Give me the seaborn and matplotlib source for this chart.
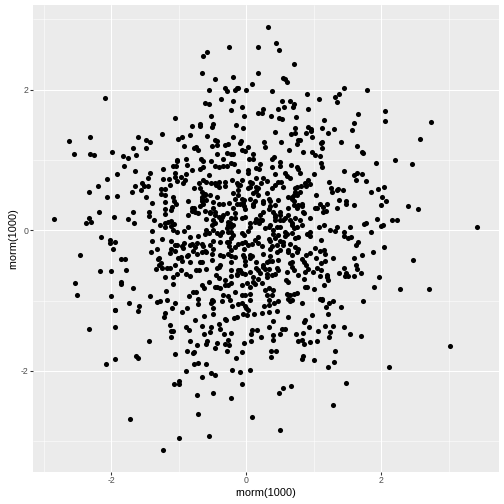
import matplotlib
matplotlib.use("Agg")
import matplotlib.pyplot as plt
import pandas as pd
import seaborn as sns

# values, region by region
top_left_x = [-2.09,-2.63,-2.56,-2.31,-2.32,-2.26,-1.99,-1.82,-1.76,-1.68,
              -1.63,-1.61,-1.49,-1.49,-1.43,-1.25,-1.05,-1.01,-0.96,-0.84,
              -0.92,-1.03,-0.89]
top_left_y = [1.88,1.27,1.09,1.33,1.09,1.07,1.12,1.05,1.03,1.17,
              1.07,1.32,1.29,1.17,1.25,1.37,1.60,1.30,1.33,1.36,
              1.20,1.00,1.02]

top_mid_x = [0.32,0.44,0.48,-0.25,0.17,-0.58,-0.64,0.71,-0.65,0.18,
             -0.19,-0.46,0.55,0.58,0.60,0.09,-0.31,-0.12,-0.14,-0.17,
             -0.28,-0.56,-0.01,0.38,0.90,1.08,-0.37,-0.20,-0.61,-0.56,
             -0.06,-0.22,0.24,0.18,0.23,0.53,0.64,0.71,0.69,0.47,
             0.56,0.91,0.36,-0.04,-0.53,0.48,0.53,0.73,1.15,-0.16,
             -0.05,-0.80,-0.68,-0.68,-0.50,-0.51,0.72,0.92,0.96,0.96,
             1.12,0.88,0.72,0.66,0.42,1.21,-0.58,-0.19,0.97,-0.08,
             -0.10,-0.46,-0.44,-0.43,-0.51,-0.31,-0.27,0.03,0.26,0.28,
             0.51,0.75,0.76,0.80,1.10,1.12,-0.77,-0.74,-0.71,-0.43,
             -0.29,-0.23,-0.19,-0.06,-0.02,0.10,0.63,0.84,0.98,1.02,
             1.09,-0.67,-0.35,0.04,0.10,0.41,0.38]
top_mid_y = [2.89,2.66,2.56,2.60,2.60,2.54,2.48,2.37,2.23,2.24,
             2.18,2.15,2.17,2.15,2.11,2.08,2.03,2.03,2.02,1.99,
             1.98,1.99,1.99,1.98,1.94,1.86,1.87,1.84,1.81,1.80,
             1.76,1.71,1.73,1.67,1.67,1.84,1.84,1.79,1.75,1.73,
             1.75,1.72,1.63,1.62,1.62,1.60,1.58,1.61,1.57,1.49,
             1.45,1.48,1.51,1.48,1.51,1.47,1.46,1.47,1.44,1.41,
             1.46,1.39,1.39,1.37,1.40,1.39,1.34,1.32,1.32,1.27,
             1.24,1.28,1.27,1.21,1.20,1.21,1.22,1.19,1.25,1.18,
             1.26,1.22,1.28,1.28,1.24,1.17,1.17,1.18,1.14,1.09,
             1.10,1.09,1.09,1.14,1.13,1.08,1.14,1.12,1.11,1.07,
             1.05,1.01,1.02,1.01,1.01,1.04,1.01]

top_right_x = [1.45,1.79,1.37,1.31,1.34,1.65,2.06,2.05,2.74,1.60,
               1.30,1.57,2.58,1.40,1.64,1.71,1.73,2.20,1.12]
top_right_y = [2.03,2.00,1.94,1.89,1.83,1.66,1.69,1.56,1.54,1.52,
               1.44,1.43,1.30,1.25,1.20,1.11,1.10,1.00,1.25]

mid_left_x = [-1.81,-1.65,-1.92,-2.06,-1.42,-1.45,-1.24,-1.08,-1.02,-1.04,
              -0.90,-0.88,-1.06,-1.05,-0.97,-1.23,-1.14,-0.91,-0.94,-1.03,
              -1.13,-1.55,-1.46,-1.65,-1.52,-1.56,-1.70,-2.20,-2.33,-2.06,
              -1.92,-1.48,-1.26,-1.21,-1.26,-1.21,-1.08,-1.39,-1.20,-1.07,
              -1.04,-0.87,-1.10,-1.11,-1.20,-1.20,-0.87,-1.44,-1.44,-1.68,
              -2.18,-2.33,-1.96,-1.75,-2.85,-2.37,-2.30,-1.66,-1.37,-1.28,
              -1.21,-1.16,-1.20,-1.11,-1.12,-1.07,-1.08,-1.02,-0.92,-0.87,
              -1.40,-2.15,-2.02,-1.95,-2.02,-1.97,-2.47,-1.39,-1.25,-1.12,
              -0.93,-1.05,-1.02,-0.96,-0.94,-1.33,-1.41,-1.11,-1.13,-1.05,
              -0.86,-0.88,-0.97,-1.86,-1.79,-1.30,-1.31,-1.01,-0.95,-1.26,
              -1.29,-1.06,-1.34,-1.25,-1.17,-1.13,-1.78,-2.17,-2.01,-0.97,
              -1.02,-0.89,-1.08,-1.20,-0.84,-2.54,-1.86,-1.85,-1.09,-1.68,
              -1.19,-2.51,-2.01,-1.43,-0.85,-1.17,-1.33,-1.28,-1.06,-1.74,
              -1.59,-1.95,-1.10,-0.88]
mid_left_y = [0.91,0.85,0.80,0.73,0.82,0.74,0.87,0.92,0.98,0.92,
              0.80,0.93,0.82,0.76,0.76,0.73,0.73,0.72,0.67,0.70,
              0.65,0.67,0.63,0.63,0.63,0.58,0.54,0.63,0.55,0.48,
              0.49,0.48,0.59,0.59,0.52,0.50,0.48,0.39,0.40,0.41,
              0.37,0.41,0.33,0.29,0.30,0.23,0.22,0.26,0.20,0.26,
              0.26,0.18,0.19,0.16,0.16,0.10,0.12,0.11,0.14,0.08,
              0.10,0.12,0.04,0.13,0.06,0.09,0.01,-0.02,-0.01,0.04,
              -0.01,-0.10,-0.14,-0.17,-0.18,-0.26,-0.35,-0.15,-0.13,-0.15,
              -0.18,-0.21,-0.21,-0.23,-0.25,-0.26,-0.31,-0.27,-0.32,-0.29,
              -0.35,-0.37,-0.38,-0.41,-0.41,-0.40,-0.41,-0.40,-0.44,-0.47,
              -0.49,-0.49,-0.55,-0.54,-0.53,-0.53,-0.57,-0.58,-0.58,-0.57,
              -0.62,-0.62,-0.66,-0.66,-0.65,-0.75,-0.74,-0.77,-0.76,-0.82,
              -0.86,-0.92,-0.93,-0.93,-0.93,-0.99,-1.02,-1.00,-1.03,-1.04,
              -1.08,-1.13,-1.11,-1.11]

center_x = [-0.64,-0.53,-0.68,-0.64,-0.46,-0.40,-0.35,-0.29,-0.23,-0.18,
            -0.12,0.03,0.03,0.14,0.20,0.19,0.38,0.50,0.50,0.66,
            0.75,0.77,0.79,0.57,0.61,0.64,0.43,-0.81,-0.56,-0.70,
            -0.64,-0.59,-0.53,-0.46,-0.41,-0.32,-0.21,-0.32,-0.41,-0.14,
            -0.09,-0.07,0.05,0.15,0.25,0.31,0.22,0.47,0.38,0.55,
            0.72,0.87,0.92,0.81,0.89,-0.77,-0.68,-0.65,-0.61,0.18,
            0.14,0.10,0.05,0.03,-0.12,-0.19,-0.12,-0.07,-0.17,-0.05,
            -0.14,-0.25,-0.34,-0.40,-0.49,-0.59,-0.66,-0.66,-0.69,-0.77,
            -0.81,-0.61,-0.54,-0.49,-0.46,-0.59,-0.36,-0.29,-0.17,-0.22,
            -0.27,-0.23,-0.07,0.05,-0.02,0.10,0.24,0.13,0.18,0.30,
            0.33,0.35,0.47,0.62,0.67,0.75,0.71,0.77,0.82,0.62,
            0.84,0.62,0.57,0.50,0.40,0.33,0.25,0.20,0.15,0.23,
            0.19,0.43,0.50,0.33,0.28,0.45,0.50,0.67,0.75,0.82,
            0.65,0.72,-0.60,-0.56,-0.49,-0.44,-0.36,-0.27,-0.22,-0.07,
            0.03,-0.39,-0.49,-0.54,-0.71,-0.83,-0.73,-0.64,-0.83,-0.25,
            -0.22,-0.25,-0.07,0.03,0.13,0.18,0.23,0.35,0.43,0.47,
            0.57,0.50,0.55,0.62,0.67,0.72,0.77,0.90,0.35,0.45,
            0.67,0.82,0.89,0.25,0.35,0.47,0.30,0.15,0.05,-0.05,
            -0.02,-0.17,-0.27,-0.22,-0.39,-0.51,-0.49,-0.61,-0.73,-0.79,
            -0.66,-0.51,-0.83,-0.70,-0.59,-0.39,-0.44,-0.22,-0.12,-0.02,
            0.14,0.25,0.33,0.45,0.65,0.67,0.71,0.89,0.60,0.05,
            -0.45,-0.41,-0.22,-0.07,-0.14,-0.32,0.10,0.20,0.30,0.43,
            0.59,0.77,0.87,-0.56,-0.66,-0.62,-0.47,-0.39,-0.32,-0.22,
            -0.07,0.01,0.05,0.10,0.23,0.33,0.40,0.60,0.65,0.75,
            0.87,-0.79,-0.71,-0.51,-0.34,-0.27,-0.17,-0.07,0.05,0.30,
            0.38,0.33,0.62,0.67,-0.24,0.05,1.09]
center_y = [0.99,0.98,0.87,0.90,0.92,0.90,0.92,0.92,0.95,0.94,
            0.85,0.86,0.81,0.89,0.94,0.87,0.90,0.97,0.92,0.93,
            0.90,0.87,0.81,0.82,0.77,0.74,0.80,0.86,0.78,0.67,
            0.72,0.68,0.67,0.67,0.68,0.69,0.72,0.63,0.62,0.67,
            0.64,0.72,0.68,0.74,0.74,0.70,0.67,0.68,0.60,0.62,
            0.60,0.67,0.72,0.63,0.63,0.60,0.60,0.55,0.52,0.60,
            0.56,0.53,0.45,0.60,0.58,0.53,0.50,0.45,0.44,0.39,
            0.38,0.39,0.37,0.37,0.40,0.43,0.48,0.41,0.34,0.31,
            0.27,0.28,0.26,0.31,0.22,0.16,0.19,0.24,0.24,0.17,
            0.08,0.05,0.17,0.11,0.30,0.35,0.39,0.41,0.50,0.53,
            0.45,0.41,0.43,0.48,0.48,0.50,0.41,0.36,0.34,0.31,
            0.26,0.22,0.17,0.22,0.26,0.30,0.26,0.22,0.16,0.15,
            0.10,0.19,0.15,0.05,0.03,0.05,0.04,0.08,0.05,0.08,
            0.15,0.17,0.00,-0.04,0.00,-0.04,-0.02,-0.02,-0.03,-0.04,
            -0.01,-0.16,-0.15,-0.21,-0.08,-0.10,-0.18,-0.22,-0.21,-0.16,
            -0.11,-0.23,-0.18,-0.21,-0.14,-0.18,-0.23,-0.15,-0.11,-0.07,
            -0.08,-0.15,-0.21,-0.28,-0.04,-0.11,-0.26,-0.05,-0.26,-0.21,
            -0.35,-0.41,-0.35,-0.33,-0.37,-0.42,-0.45,-0.45,-0.35,-0.35,
            -0.43,-0.38,-0.33,-0.45,-0.35,-0.33,-0.26,-0.30,-0.33,-0.30,
            -0.45,-0.42,-0.45,-0.56,-0.55,-0.49,-0.53,-0.56,-0.57,-0.49,
            -0.53,-0.52,-0.55,-0.54,-0.47,-0.52,-0.57,-0.49,-0.59,-0.59,
            -0.64,-0.68,-0.65,-0.61,-0.64,-0.71,-0.66,-0.61,-0.66,-0.62,
            -0.71,-0.64,-0.59,-0.73,-0.78,-0.82,-0.80,-0.82,-0.78,-0.75,
            -0.78,-0.75,-0.81,-0.73,-0.75,-0.82,-0.85,-0.90,-0.92,-0.89,
            -0.80,-0.87,-0.97,-0.99,-0.92,-0.94,-0.87,-0.92,-0.90,-0.92,
            -0.92,-0.99,-0.97,-0.99,-0.99,-0.99,-0.97]

# second pass over the dense middle
dense_x = [-0.45,-0.12,0.05,-0.61,-0.54,-0.44,-0.66,-0.64,-0.46,-0.04,
           -0.09,-0.04,-0.19,-0.81,-0.76,-0.71,-0.54,-0.41,-0.34,-0.02,
           -0.49,-0.37,-0.24,-0.19,-0.29,-0.27,-0.17,0.05,-0.51,-0.46,
           0.08,0.52,0.15,0.43,0.75,0.80,0.72,0.70,0.67,0.82,
           0.10,0.25,0.35,0.43,0.50,0.70,0.75,0.20,0.13,0.43,
           0.43,0.55,0.67,0.85,0.80,0.35,0.40,0.57,0.70,
           -0.61,-0.39,-0.19,-0.04,0.18,0.33,0.40,0.60,0.77,-0.81,
           -0.76,-0.66,-0.29,-0.12,-0.02,0.08,0.38,0.55,0.65,0.72,
           -0.66,-0.59,-0.22,-0.17,-0.04,0.08,0.45,0.50,0.62,0.75,
           -0.34,-0.22,-0.04,0.06,0.33,0.38,0.67,-0.69,-0.41,0.85,
           0.25,0.28,0.92,-0.74,-0.09,-0.02,-0.14,0.18,0.30,0.47,
           0.18,0.38,0.85,-0.27,0.13,0.62,0.90,-0.44,-0.74,-0.02,
           0.28,0.70]
dense_y = [0.64,0.64,0.62,0.50,0.50,0.48,0.45,0.38,0.26,0.43,
           0.38,0.34,0.31,0.31,0.26,0.24,0.24,0.19,0.22,0.19,
           0.15,0.15,0.10,0.08,0.03,0.12,0.17,0.05,0.08,0.10,
           0.67,0.68,0.62,0.64,0.62,0.55,0.55,0.50,0.45,0.38,
           0.38,0.41,0.34,0.36,0.26,0.36,0.31,0.15,0.12,0.22,
           0.15,0.15,0.10,0.24,0.15,0.07,0.00,-0.02,0.03,
           -0.05,-0.07,-0.07,-0.07,-0.10,-0.12,-0.05,-0.05,-0.10,-0.19,
           -0.24,-0.19,-0.17,-0.19,-0.17,-0.19,-0.22,-0.17,-0.19,-0.24,
           -0.31,-0.31,-0.28,-0.24,-0.26,-0.36,-0.31,-0.28,-0.31,-0.31,
           -0.36,-0.36,-0.38,-0.40,-0.43,-0.43,-0.45,-0.45,-0.52,-0.45,
           -0.50,-0.55,-0.55,-0.57,-0.57,-0.62,-0.62,-0.57,-0.62,-0.57,
           -0.69,-0.64,-0.69,-0.78,-0.76,-0.74,-0.81,-0.81,-0.88,-0.92,
           -0.85,-0.90]

mid_right_x = [1.92,2.46,1.11,1.12,1.45,1.01,1.71,1.64,1.60,1.62,
               1.78,1.23,0.94,2.04,1.95,1.84,1.25,1.27,1.35,1.36,
               1.43,1.03,2.01,2.07,1.38,1.48,1.48,1.59,1.09,1.20,
               1.99,2.40,2.54,1.02,1.05,1.34,1.14,1.13,1.18,0.95,
               1.94,2.16,2.23,1.78,1.74,2.00,2.03,3.42,1.08,1.15,
               1.35,1.54,1.24,1.32,1.84,1.45,1.44,1.50,1.55,0.94,
               0.95,1.11,1.65,1.63,1.02,2.04,1.87,1.71,1.09,1.15,
               1.17,0.95,1.03,1.29,1.59,2.47,1.16,1.11,1.63,1.64,
               1.44,1.04,1.11,0.99,1.37,1.48,1.70,1.20,1.09,1.46,
               1.50,1.59,1.19,1.21,1.97,1.15,1.89,2.28,2.71,1.00,
               1.12]
mid_right_y = [0.95,0.94,0.95,0.90,0.85,0.80,0.80,0.81,0.79,0.72,
               0.70,0.69,0.66,0.61,0.59,0.55,0.60,0.54,0.57,0.59,
               0.58,0.50,0.47,0.42,0.43,0.42,0.37,0.36,0.38,0.38,
               0.36,0.35,0.30,0.32,0.32,0.32,0.33,0.26,0.27,0.17,
               0.16,0.14,0.15,0.11,0.09,0.06,0.07,0.05,0.05,0.07,
               0.05,0.04,0.01,-0.01,-0.02,-0.03,-0.08,-0.11,-0.09,-0.02,
               -0.08,-0.14,-0.17,-0.21,-0.25,-0.24,-0.31,-0.35,-0.30,-0.28,
               -0.34,-0.32,-0.39,-0.40,-0.40,-0.42,-0.43,-0.46,-0.49,-0.55,
               -0.53,-0.53,-0.57,-0.59,-0.61,-0.60,-0.61,-0.63,-0.65,-0.65,
               -0.65,-0.65,-0.67,-0.70,-0.67,-0.78,-0.80,-0.84,-0.83,-0.83,
               -0.97]

bottom_left_x = [-1.94,-1.60,-0.95,-1.20,-1.22,-1.13,-2.33,-1.95,-0.90,-0.85,
                 -1.12,-1.08,-1.11,-1.44,-0.83,-0.88,-1.05,-1.64,-1.60,-1.95,
                 -2.08,-0.90,-0.99,-1.00,-1.07,-1.72,-1.00,-1.24]
bottom_left_y = [-1.14,-1.15,-1.16,-1.17,-1.23,-1.35,-1.41,-1.38,-1.38,-1.42,
                 -1.43,-1.43,-1.52,-1.58,-1.57,-1.71,-1.76,-1.79,-1.82,-1.83,
                 -1.90,-2.00,-2.14,-2.18,-2.19,-2.68,-2.95,-3.13]

bottom_mid_x = [-0.71,-0.53,-0.50,-0.50,-0.36,-0.21,-0.13,-0.06,-0.02,0.00,
                0.03,0.26,0.34,0.41,0.47,0.65,0.83,-0.49,-0.62,-0.76,
                -0.65,-0.40,-0.32,-0.30,-0.52,-0.39,-0.18,-0.14,-0.05,0.01,
                0.11,0.23,0.33,0.46,0.62,0.39,0.33,0.08,0.16,0.53,
                0.58,0.07,0.22,0.39,0.50,0.40,0.87,0.85,0.97,0.93,
                0.74,0.84,1.06,1.17,1.21,1.22,1.18,-0.63,-0.54,-0.33,
                -0.22,-0.27,-0.32,-0.26,-0.58,-0.60,-0.44,-0.46,-0.73,-0.77,
                -0.79,-0.28,-0.07,-0.04,0.07,-0.16,0.37,0.44,0.36,0.77,
                0.82,0.85,0.95,1.05,0.84,0.83,1.01,1.21,-0.77,-0.71,
                -0.59,-0.21,-0.09,0.06,-0.65,-0.53,-0.46,-0.07,0.66,0.55,
                0.49,-0.49,-0.73,-0.23,-0.71,0.09,0.50,-0.56]
bottom_mid_y = [-1.05,-1.03,-1.00,-1.10,-1.01,-1.07,-1.05,-1.03,-1.08,-1.10,
                -1.13,-1.08,-1.06,-1.03,-1.00,-1.00,-1.04,-1.19,-1.22,-1.28,
                -1.36,-1.33,-1.26,-1.28,-1.38,-1.40,-1.24,-1.23,-1.19,-1.21,
                -1.19,-1.18,-1.16,-1.15,-1.23,-1.29,-1.37,-1.42,-1.42,-1.41,
                -1.41,-1.48,-1.52,-1.49,-1.48,-1.56,-1.28,-1.31,-1.20,-1.37,
                -1.47,-1.46,-1.43,-1.36,-1.19,-1.03,-1.09,-1.47,-1.45,-1.48,
                -1.46,-1.56,-1.61,-1.63,-1.57,-1.62,-1.60,-1.67,-1.63,-1.73,
                -1.75,-1.71,-1.73,-1.60,-1.58,-1.81,-1.71,-1.71,-1.80,-1.58,
                -1.56,-1.61,-1.59,-1.57,-1.79,-1.83,-1.84,-1.95,-1.90,-1.89,
                -1.90,-1.98,-2.01,-1.98,-2.08,-2.03,-2.06,-2.18,-2.22,-2.24,
                -2.32,-2.31,-2.34,-2.39,-2.61,-2.66,-2.84,-2.92]

bottom_right_x = [3.02,2.12,1.48,1.28,1.30,1.31,1.70,1.53,1.45,1.29,
                  1.24,1.23,1.40,1.29,1.73,1.12]
bottom_right_y = [-1.64,-1.94,-2.17,-2.49,-1.87,-1.72,-1.50,-1.47,-1.38,-1.36,
                  -1.44,-1.52,-1.09,-1.00,-1.01,-0.99]

x_vals = (top_left_x + top_mid_x + top_right_x + mid_left_x + center_x + dense_x
          + mid_right_x + bottom_left_x + bottom_mid_x + bottom_right_x)
y_vals = (top_left_y + top_mid_y + top_right_y + mid_left_y + center_y + dense_y
          + mid_right_y + bottom_left_y + bottom_mid_y + bottom_right_y)
df = pd.DataFrame({"x": x_vals, "y": y_vals})

major_ticks = [-2, 0, 2]
minor_ticks = [-3, -1, 1, 3]

sns.set_theme(style="darkgrid")
plt.rcParams["font.family"] = ["Liberation Sans", "DejaVu Sans"]
plt.rcParams["axes.unicode_minus"] = False

fig = plt.figure(figsize=(7, 7), dpi=72, facecolor="white")
ax = fig.add_axes([33 / 504, 32 / 504, 465.5 / 504, 467 / 504])
ax.set_facecolor("#EBEBEB")

sns.scatterplot(data=df, x="x", y="y", color="black", s=26, linewidth=0, ax=ax, zorder=3)

ax.set_xlim(-3.16, 3.736)
ax.set_ylim(-3.436, 3.203)
ax.set_xticks(major_ticks)
ax.set_yticks(major_ticks)
ax.set_xticks(minor_ticks, minor=True)
ax.set_yticks(minor_ticks, minor=True)
ax.grid(True, which="major", color="white", linewidth=1.07)
ax.grid(True, which="minor", color="white", linewidth=0.53)
ax.set_axisbelow(True)
for s in ax.spines.values():
    s.set_visible(False)
ax.tick_params(which="major", length=2.75, width=1.07, color="#333333",
               labelcolor="#4D4D4D", labelsize=8.8, pad=1.5,
               bottom=True, left=True)
ax.tick_params(which="minor", length=0)
ax.set_xlabel("rnorm(1000)", fontsize=11, color="black", labelpad=2.75)
ax.set_ylabel("rnorm(1000)", fontsize=11, color="black", labelpad=2.75)

fig.savefig("out.png", dpi=72)
